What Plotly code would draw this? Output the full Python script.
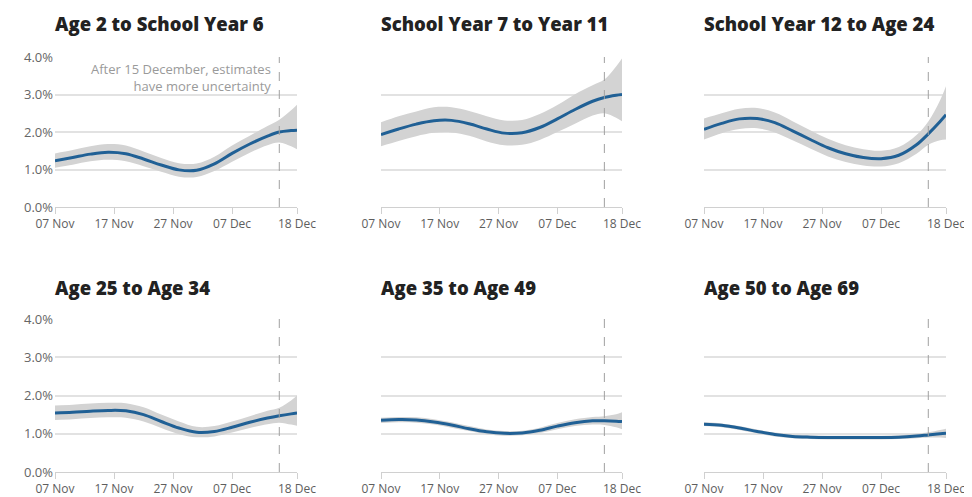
import plotly.graph_objects as go

dates = ["2020-11-07", "2020-11-10", "2020-11-13", "2020-11-16", "2020-11-19", "2020-11-22",
         "2020-11-25", "2020-11-28", "2020-12-01", "2020-12-04", "2020-12-07", "2020-12-10",
         "2020-12-13", "2020-12-15", "2020-12-17", "2020-12-18"]

titles = ["Age 2 to School Year 6", "School Year 7 to Year 11", "School Year 12 to Age 24",
          "Age 25 to Age 34", "Age 35 to Age 49", "Age 50 to Age 69"]

est_age2_sy6 = [1.23, 1.32, 1.41, 1.46, 1.42, 1.28, 1.12, 0.99, 0.98, 1.15, 1.43, 1.68, 1.89, 2.00, 2.04, 2.05]
low_age2_sy6 = [1.05, 1.13, 1.22, 1.26, 1.22, 1.09, 0.94, 0.81, 0.80, 0.96, 1.21, 1.45, 1.65, 1.72, 1.62, 1.54]
upp_age2_sy6 = [1.43, 1.52, 1.62, 1.68, 1.64, 1.48, 1.31, 1.17, 1.16, 1.34, 1.64, 1.90, 2.16, 2.33, 2.58, 2.73]

est_sy7_sy11 = [1.93, 2.08, 2.21, 2.30, 2.31, 2.22, 2.08, 1.97, 1.98, 2.12, 2.35, 2.60, 2.82, 2.92, 2.98, 3.00]
low_sy7_sy11 = [1.62, 1.76, 1.89, 1.98, 1.99, 1.90, 1.75, 1.65, 1.66, 1.79, 2.00, 2.22, 2.44, 2.50, 2.38, 2.29]
upp_sy7_sy11 = [2.26, 2.42, 2.55, 2.66, 2.66, 2.56, 2.42, 2.31, 2.32, 2.48, 2.72, 3.01, 3.25, 3.40, 3.75, 3.96]

est_sy12_24 = [2.07, 2.23, 2.35, 2.36, 2.25, 2.03, 1.80, 1.58, 1.42, 1.32, 1.29, 1.38, 1.66, 1.95, 2.28, 2.46]
low_sy12_24 = [1.80, 1.97, 2.08, 2.10, 1.99, 1.78, 1.56, 1.35, 1.20, 1.11, 1.08, 1.17, 1.42, 1.66, 1.78, 1.80]
upp_sy12_24 = [2.36, 2.50, 2.62, 2.64, 2.52, 2.29, 2.05, 1.82, 1.65, 1.54, 1.50, 1.60, 1.92, 2.28, 2.85, 3.22]

est_25_34 = [1.54, 1.56, 1.59, 1.61, 1.60, 1.50, 1.32, 1.15, 1.04, 1.06, 1.17, 1.30, 1.41, 1.47, 1.52, 1.54]
low_25_34 = [1.36, 1.38, 1.41, 1.43, 1.42, 1.32, 1.15, 0.99, 0.91, 0.93, 1.03, 1.15, 1.25, 1.29, 1.24, 1.21]
upp_25_34 = [1.74, 1.76, 1.79, 1.81, 1.80, 1.69, 1.50, 1.32, 1.18, 1.20, 1.32, 1.46, 1.60, 1.68, 1.87, 2.00]

est_35_49 = [1.35, 1.37, 1.36, 1.31, 1.23, 1.13, 1.05, 1.01, 1.02, 1.09, 1.20, 1.29, 1.34, 1.34, 1.33, 1.32]
low_35_49 = [1.28, 1.30, 1.29, 1.24, 1.16, 1.07, 0.99, 0.95, 0.96, 1.02, 1.12, 1.20, 1.24, 1.23, 1.17, 1.12]
upp_35_49 = [1.42, 1.44, 1.43, 1.38, 1.30, 1.20, 1.11, 1.07, 1.08, 1.16, 1.28, 1.38, 1.44, 1.46, 1.51, 1.56]

est_50_69 = [1.25, 1.22, 1.15, 1.06, 0.98, 0.93, 0.91, 0.90, 0.90, 0.90, 0.90, 0.91, 0.94, 0.97, 1.00, 1.01]
low_50_69 = [1.20, 1.17, 1.10, 1.01, 0.93, 0.88, 0.86, 0.85, 0.85, 0.85, 0.85, 0.86, 0.88, 0.90, 0.90, 0.89]
upp_50_69 = [1.30, 1.27, 1.20, 1.11, 1.03, 0.98, 0.96, 0.95, 0.95, 0.95, 0.95, 0.96, 1.00, 1.04, 1.10, 1.13]

estimates = [est_age2_sy6, est_sy7_sy11, est_sy12_24, est_25_34, est_35_49, est_50_69]
lowers = [low_age2_sy6, low_sy7_sy11, low_sy12_24, low_25_34, low_35_49, low_50_69]
uppers = [upp_age2_sy6, upp_sy7_sy11, upp_sy12_24, upp_25_34, upp_35_49, upp_50_69]

x_tickvals = ["2020-11-07", "2020-11-17", "2020-11-27", "2020-12-07", "2020-12-18"]
x_ticktext = ["07 Nov", "17 Nov", "27 Nov", "07 Dec", "18 Dec"]
y_tickvals = [0, 1, 2, 3, 4]
y_ticktext = ["0.0%", "1.0%", "2.0%", "3.0%", "4.0%"]
uncertainty_date = "2020-12-15"
note_text = "After 15 December, estimates<br>have more uncertainty"

OFF = 8  # page body margin
W, H = 972 - OFF, 497 - OFF
x_px = [(55, 297), (381, 622), (704, 946)]
y_px = [(57, 207), (319, 472)]
title_y = [24, 287]

FONT = "Open Sans"
BLUE = "#206095"
fig = go.Figure()
layout = dict(width=W, height=H, margin=dict(l=0, r=0, t=0, b=0, autoexpand=False),
              paper_bgcolor="white", plot_bgcolor="white", showlegend=False,
              font=dict(family=FONT, size=12, color="#666666"))
annotations = []
shapes = []
for i in range(6):
    r, c = divmod(i, 3)
    n = i + 1
    xa = "x" if n == 1 else f"x{n}"
    ya = "y" if n == 1 else f"y{n}"
    fig.add_trace(go.Scatter(x=dates, y=lowers[i], mode="lines", line=dict(width=0, shape="spline"),
                             xaxis=xa, yaxis=ya, hoverinfo="skip"))
    fig.add_trace(go.Scatter(x=dates, y=uppers[i], mode="lines", line=dict(width=0, shape="spline"),
                             fill="tonexty", fillcolor="#d3d3d3", xaxis=xa, yaxis=ya, hoverinfo="skip"))
    fig.add_trace(go.Scatter(x=dates, y=estimates[i], mode="lines",
                             line=dict(color=BLUE, width=3, shape="spline"), xaxis=xa, yaxis=ya))
    x0, x1 = (v - OFF for v in x_px[c])
    y0, y1 = (v - OFF for v in y_px[r])
    layout["xaxis" if n == 1 else f"xaxis{n}"] = dict(
        domain=[x0 / W, x1 / W], anchor=ya, type="date", automargin=False,
        range=["2020-11-07", "2020-12-18"], tickvals=x_tickvals, ticktext=x_ticktext,
        showgrid=False, zeroline=False, showline=True, linecolor="#d0d0d0", linewidth=1,
        ticks="outside", ticklen=6, tickcolor="#d0d0d0", tickfont=dict(size=12, color="#5e5e5e"),
        fixedrange=True)
    layout["yaxis" if n == 1 else f"yaxis{n}"] = dict(
        domain=[1 - y1 / H, 1 - y0 / H], anchor=xa, range=[0, 4.0], automargin=False,
        tickvals=y_tickvals, ticktext=y_ticktext, showticklabels=(c == 0),
        showgrid=True, gridcolor="#e2e2e2", gridwidth=1.5, zeroline=False, showline=False,
        ticks="", ticklabelstandoff=1, tickfont=dict(size=13, color="#666666"), fixedrange=True)
    shapes.append(dict(type="line", xref=xa, yref=f"{ya} domain", x0=uncertainty_date, x1=uncertainty_date,
                       y0=0, y1=1, line=dict(color="#a0a0a0", width=1, dash="dash"), layer="above"))
    annotations.append(dict(text=titles[i], xref="paper", yref="paper",
                            x=(x0 - 2) / W, y=1 - (title_y[r] - OFF) / H, xanchor="left", yanchor="middle",
                            showarrow=False,
                            font=dict(family=FONT, size=18.5, weight=800, color="#222222")))
annotations.append(dict(text=note_text, xref="x", yref="y", x="2020-12-14", y=3.98,
                        xanchor="right", yanchor="top", align="right", showarrow=False,
                        font=dict(family=FONT, size=13, color="#9a9a9a")))
layout["annotations"] = annotations
layout["shapes"] = shapes
fig.update_layout(**layout)
fig.write_html("out.html")
